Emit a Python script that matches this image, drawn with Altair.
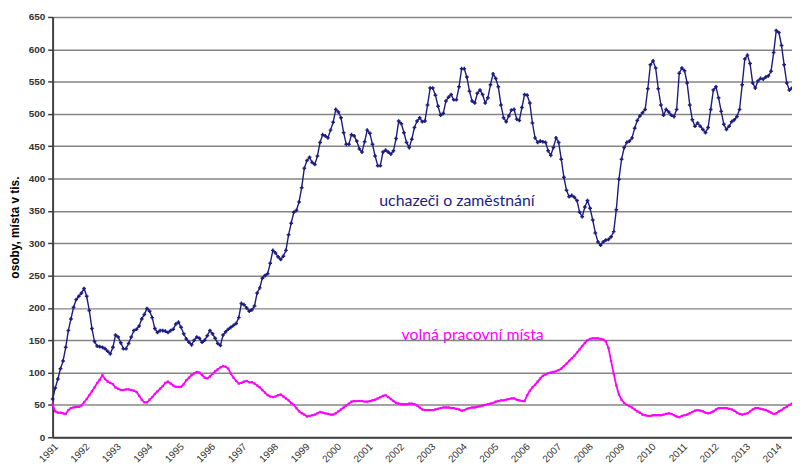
import altair as alt
import pandas as pd

# Monthly values, Jan 1991 .. Jul 2014 (thousands)
uchazeci = [
    59, 76, 90, 106, 118, 139, 165, 183, 201, 213, 218, 223,      # 1991
    230, 218, 196, 168, 148, 141, 140, 139, 137, 133, 129, 139,   # 1992
    158, 155, 146, 137, 137, 145, 155, 165, 167, 172, 183, 190,   # 1993
    199, 195, 185, 168, 162, 165, 165, 164, 162, 165, 167, 175,   # 1994
    178, 170, 160, 152, 147, 143, 150, 155, 153, 147, 150, 157,   # 1995
    165, 160, 153, 145, 142, 158, 163, 167, 170, 173, 176, 185,   # 1996
    207, 205, 200, 195, 197, 203, 223, 231, 246, 250, 253, 269,   # 1997
    289, 285, 279, 275, 280, 289, 313, 331, 348, 351, 364, 386,   # 1998
    416, 428, 433, 425, 422, 435, 456, 468, 466, 463, 475, 487,   # 1999
    507, 503, 494, 471, 453, 453, 468, 466, 458, 446, 441, 457,   # 2000
    475, 470, 453, 435, 420, 420, 441, 444, 441, 438, 443, 462,   # 2001
    489, 485, 471, 456, 448, 461, 479, 489, 494, 488, 489, 514,   # 2002
    540, 540, 529, 512, 498, 501, 520, 526, 530, 522, 522, 542,   # 2003
    570, 570, 557, 535, 520, 517, 532, 537, 530, 517, 525, 545,   # 2004
    562, 555, 542, 514, 494, 488, 497, 506, 507, 492, 490, 510,   # 2005
    530, 529, 517, 486, 463, 456, 458, 457, 456, 443, 436, 448,   # 2006
    463, 456, 430, 402, 382, 372, 374, 371, 366, 348, 341, 356,   # 2007
    366, 354, 336, 316, 302, 297, 302, 305, 306, 310, 318, 352,   # 2008
    399, 430, 448, 456, 458, 463, 478, 490, 497, 502, 507, 539,   # 2009
    576, 582, 571, 539, 514, 498, 507, 503, 498, 496, 507, 563,   # 2010
    571, 567, 548, 514, 491, 481, 486, 481, 476, 471, 479, 507,   # 2011
    537, 542, 525, 504, 484, 476, 481, 488, 491, 496, 507, 545,   # 2012
    585, 591, 578, 548, 540, 551, 555, 554, 557, 559, 566, 595,   # 2013
    629, 626, 606, 576, 548, 537, 540,                            # 2014
]

volna_mista = [
    51, 40, 38, 38, 37, 36, 42, 45, 46, 47, 47, 49,      # 1991
    54, 59, 65, 71, 77, 84, 89, 96, 90, 86, 84, 82,      # 1992
    77, 75, 73, 73, 74, 74, 73, 72, 70, 64, 58, 54,      # 1993
    54, 58, 62, 67, 71, 75, 79, 84, 86, 83, 80, 78,      # 1994
    78, 78, 82, 88, 92, 96, 99, 101, 100, 96, 92, 91,    # 1995
    94, 98, 102, 105, 108, 110, 109, 106, 98, 92, 87, 83,  # 1996
    84, 86, 87, 85, 85, 83, 80, 77, 73, 69, 65, 63,      # 1997
    62, 63, 65, 66, 63, 60, 57, 53, 50, 45, 40, 37,      # 1998
    35, 32, 33, 34, 35, 37, 39, 38, 37, 36, 35, 35,      # 1999
    37, 40, 43, 46, 49, 52, 55, 56, 56, 56, 56, 55,      # 2000
    55, 56, 57, 58, 60, 62, 64, 65, 62, 59, 56, 53,      # 2001
    52, 51, 51, 51, 52, 52, 51, 49, 46, 43, 42, 42,      # 2002
    42, 42, 43, 44, 45, 46, 46, 46, 45, 45, 44, 43,      # 2003
    41, 42, 44, 45, 46, 46, 47, 48, 49, 50, 51, 52,      # 2004
    53, 55, 56, 57, 57, 58, 59, 60, 60, 58, 57, 56,      # 2005
    56, 65, 72, 77, 81, 86, 91, 95, 97, 99, 100, 101,    # 2006
    102, 104, 106, 110, 114, 118, 122, 126, 131, 136, 141, 146,  # 2007
    150, 152, 153, 153, 153, 152, 151, 148, 138, 118, 98, 80,    # 2008
    66, 58, 53, 50, 48, 46, 43, 40, 38, 35, 34, 33,      # 2009
    33, 34, 34, 34, 34, 35, 36, 37, 36, 34, 32, 31,      # 2010
    33, 34, 35, 37, 39, 41, 42, 41, 40, 38, 37, 38,      # 2011
    40, 43, 45, 45, 45, 45, 44, 43, 41, 38, 36, 35,      # 2012
    36, 37, 40, 43, 45, 45, 44, 43, 42, 40, 38, 36,      # 2013
    37, 40, 42, 45, 47, 50, 52,                          # 2014
]

year_ticks = list(range(1991, 2015))
y_ticks = list(range(0, 651, 50))

label_texts = ["uchazeči o zaměstnání", "volná pracovní místa"]
label_t = [2003.85, 2004.35]
label_v = [366, 158]

t = [1991 + i / 12 for i in range(len(uchazeci))]
df_u = pd.DataFrame({"t": t, "v": uchazeci})
df_m = pd.DataFrame({"t": t, "v": volna_mista})
df_lab = pd.DataFrame({"t": label_t, "v": label_v, "txt": label_texts})

x_enc = alt.X(
    "t:Q",
    scale=alt.Scale(domain=[1991, 2014.5], nice=False, zero=False),
    axis=alt.Axis(
        values=year_ticks, format="d", labelAngle=-45, grid=False, ticks=False,
        domainColor="#404040", domainWidth=2, labelFontSize=10,
        labelFont="Liberation Sans", labelColor="#333333",
        labelAlign="right", labelBaseline="top", labelPadding=4,
        title=None, labelOverlap=False,
    ),
)
y_enc = alt.Y(
    "v:Q",
    scale=alt.Scale(domain=[0, 650], nice=False),
    axis=alt.Axis(
        values=y_ticks, title="osoby, místa v tis.", titleFontWeight="bold",
        titleFontSize=12, titleFont="Liberation Sans", titleColor="#000000",
        titlePadding=7, labelFont="Liberation Sans", labelFontSize=10,
        labelFontWeight="bold", labelColor="#333333", labelPadding=3,
        labelOverlap=False,
        tickColor="#404040", tickSize=5, tickWidth=1.5,
        domainColor="#404040", domainWidth=2,
        gridColor="#858585", gridWidth=1.5,
    ),
)

blue = "#1c1c80"
pink = "#ff00ff"

line_u = alt.Chart(df_u).mark_line(
    color=blue, strokeWidth=1.4,
    point=alt.OverlayMarkDef(shape="cross", size=14, color=blue, filled=True),
).encode(x=x_enc, y=y_enc)

line_m = alt.Chart(df_m).mark_line(
    color=pink, strokeWidth=1.8,
    point=alt.OverlayMarkDef(shape="square", size=5, color=pink, filled=True),
).encode(x=x_enc, y=y_enc)

text = alt.Chart(df_lab).mark_text(
    font="Lato", fontSize=16, align="center", baseline="middle"
).encode(
    x=x_enc, y=y_enc, text="txt:N",
    color=alt.Color("txt:N", scale=alt.Scale(domain=label_texts, range=[blue, pink]), legend=None),
)

chart = alt.layer(line_m, line_u, text).properties(
    width=746, height=424,
    autosize=alt.AutoSizeParams(type="none"),
    padding={"left": 45, "top": 7, "right": 0, "bottom": 30},
).configure_view(stroke=None)

chart.save("out.html", embed_options={"renderer": "svg", "actions": False})
